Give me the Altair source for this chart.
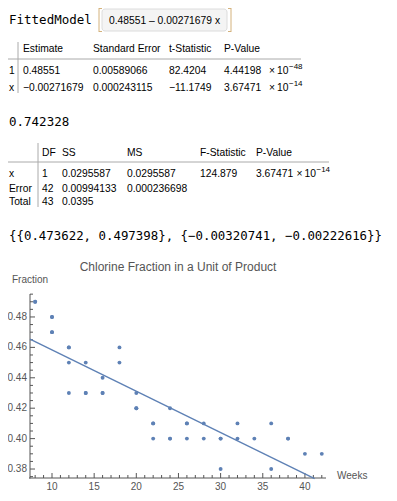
import altair as alt
import pandas as pd

# ---------------- data ----------------
weeks = [8, 8, 10, 10, 10, 10, 12, 12, 12, 12, 14, 14, 14, 16, 16, 16, 18, 18,
         20, 20, 20, 22, 22, 22, 24, 24, 24, 26, 26, 26, 28, 28, 30, 30, 30,
         32, 32, 34, 36, 36, 38, 38, 40, 42]
fraction = [0.49, 0.49, 0.48, 0.47, 0.48, 0.47, 0.46, 0.46, 0.45, 0.43, 0.45,
            0.43, 0.43, 0.44, 0.43, 0.43, 0.46, 0.45, 0.42, 0.42, 0.43, 0.41,
            0.41, 0.40, 0.42, 0.40, 0.40, 0.41, 0.40, 0.41, 0.41, 0.40, 0.40,
            0.40, 0.38, 0.41, 0.40, 0.40, 0.41, 0.38, 0.40, 0.40, 0.39, 0.39]

model_text = "0.48551 \u2013 0.00271679 x"

est_header = ["Estimate", "Standard Error", "t-Statistic", "P-Value"]
est_rows = ["1", "x"]
est_cells = [["0.48551", "0.00589066", "82.4204", "4.44198"],
             ["\u22120.00271679", "0.000243115", "\u221211.1749", "3.67471"]]
times_ten = "\u00d7\u200910"
est_exp = ["\u221248", "\u221214"]

rsq_text = "0.742328"

anova_header = ["DF", "SS", "MS", "F-Statistic", "P-Value"]
anova_rows = ["x", "Error", "Total"]
anova_cells = [["1", "0.0295587", "0.0295587", "124.879", "3.67471"],
               ["42", "0.00994133", "0.000236698"],
               ["43", "0.0395"]]
anova_exp = "\u221214"

ci_text = "{{0.473622, 0.497398}, {\u22120.00320741, \u22120.00222616}}"

plot_title = "Chlorine Fraction in a Unit of Product"
y_title = "Fraction"
x_title = "Weeks"
x_major = [10, 15, 20, 25, 30, 35, 40]
x_labels = ["10", "15", "20", "25", "30", "35", "40"]
x_minor = [v for v in range(8, 43) if v % 5 != 0]
y_major = [0.38, 0.40, 0.42, 0.44, 0.46, 0.48]
y_labels = ["0.38", "0.40", "0.42", "0.44", "0.46", "0.48"]
y_minor = [0.375, 0.385, 0.39, 0.395, 0.405, 0.41, 0.415, 0.425, 0.43, 0.435,
           0.445, 0.45, 0.455, 0.465, 0.47, 0.475, 0.485, 0.49, 0.495]

# ---------------- styling / layout ----------------
SANS = "Liberation Sans"
MONO = "DejaVu Sans Mono"
BLUE = "#5E81B5"
GRAY = "#555555"
TS = 10.3

XL, XR = 22, 318      # plot x range (px)
YB, YT = 470, 286     # plot y range (px)
xs = alt.Scale(domain=[7.39, 42.5], range=[XL, XR], nice=False, zero=False)
ys = alt.Scale(domain=[0.3741, 0.4951], range=[YB, YT], nice=False, zero=False)

one = pd.DataFrame({"a": [0]})


def T(s, x, y, size=TS, font=SANS, color="#000000", align="left"):
    return alt.Chart(pd.DataFrame({"t": [s]})).mark_text(
        font=font, fontSize=size, color=color, align=align, baseline="middle"
    ).encode(text="t:N", x=alt.value(x), y=alt.value(y))


def VR(x, y1, y2, color="#999999", w=1):
    return alt.Chart(one).mark_rule(color=color, strokeWidth=w).encode(
        x=alt.value(x), y=alt.value(y1), y2=alt.value(y2))


def HR(y, x1, x2, color="#999999", w=1):
    return alt.Chart(one).mark_rule(color=color, strokeWidth=w).encode(
        y=alt.value(y), x=alt.value(x1), x2=alt.value(x2))


layers = []

# FittedModel line
layers.append(T("FittedModel", 1, 12, size=12.5, font=MONO))
layers.append(alt.Chart(one).mark_rect(fill="#f4f4f4", stroke="#dcdcdc", cornerRadius=3).encode(
    x=alt.value(94), x2=alt.value(219), y=alt.value(1), y2=alt.value(23)))
layers.append(T(model_text, 156.5, 12.5, size=10.3, align="center"))
BR = "#d4b27c"
layers += [VR(91, 0, 24, BR), HR(0.5, 91, 94, BR), HR(23.5, 91, 94, BR),
           VR(223, 0, 24, BR), HR(0.5, 220, 223, BR), HR(23.5, 220, 223, BR)]

# Parameter table
est_cols = [15, 85, 161, 216]
est_y = [63, 79.5]
for s, cx in zip(est_header, est_cols):
    layers.append(T(s, cx, 41))
for r, (lab, cells) in enumerate(zip(est_rows, est_cells)):
    layers.append(T(lab, 1, est_y[r]))
    for s, cx in zip(cells, est_cols):
        layers.append(T(s, cx, est_y[r]))
    layers.append(T(times_ten, 280.5, est_y[r], align="right"))
    layers.append(T(est_exp[r], 281, est_y[r] - 4, size=8))
layers += [VR(10, 34, 85, "#aaaaaa"), HR(51, 0, 293, "#aaaaaa")]

# R squared
layers.append(T(rsq_text, 1, 114, size=12.5, font=MONO))

# ANOVA table
an_cols = [34, 54, 119, 192, 248]
an_y = [166, 180.5, 194]
for s, cx in zip(anova_header, an_cols):
    layers.append(T(s, cx, 145))
for r, (lab, cells) in enumerate(zip(anova_rows, anova_cells)):
    layers.append(T(lab, 1, an_y[r]))
    for s, cx in zip(cells, an_cols):
        layers.append(T(s, cx, an_y[r]))
layers.append(T(times_ten, 308, an_y[0], align="right"))
layers.append(T(anova_exp, 308.5, an_y[0] - 4, size=8))
layers += [VR(30, 135, 199, "#aaaaaa"), HR(154, 0, 321, "#aaaaaa")]

# Confidence intervals
layers.append(T(ci_text, 1, 228, size=12.4, font=MONO))

# ---------------- plot ----------------
layers.append(T(plot_title, 170, 259, size=12, color=GRAY, align="center"))
layers.append(T(y_title, 4, 272, size=10, color=GRAY))
layers.append(T(x_title, 329, 468, size=10, color=GRAY))

# axis lines
layers += [VR(XL, YT, YB + 0.5, GRAY), HR(YB, XL - 1, XR, GRAY)]

xmaj = pd.DataFrame({"v": x_major, "lab": x_labels})
xmin = pd.DataFrame({"v": x_minor})
ymaj = pd.DataFrame({"v": y_major, "lab": y_labels})
ymin = pd.DataFrame({"v": y_minor})

layers.append(alt.Chart(xmaj).mark_rule(color=GRAY).encode(
    x=alt.X("v:Q", scale=xs, axis=None), y=alt.value(YB), y2=alt.value(YB - 5)))
layers.append(alt.Chart(xmin).mark_rule(color=GRAY).encode(
    x=alt.X("v:Q", scale=xs, axis=None), y=alt.value(YB), y2=alt.value(YB - 3)))
layers.append(alt.Chart(xmaj).mark_text(font=SANS, fontSize=10, color=GRAY, baseline="middle").encode(
    x=alt.X("v:Q", scale=xs, axis=None), y=alt.value(479), text="lab:N"))

layers.append(alt.Chart(ymaj).mark_rule(color=GRAY).encode(
    y=alt.Y("v:Q", scale=ys, axis=None), x=alt.value(XL), x2=alt.value(XL + 5)))
layers.append(alt.Chart(ymin).mark_rule(color=GRAY).encode(
    y=alt.Y("v:Q", scale=ys, axis=None), x=alt.value(XL), x2=alt.value(XL + 3)))
layers.append(alt.Chart(ymaj).mark_text(font=SANS, fontSize=10, color=GRAY, align="right",
                                        baseline="middle").encode(
    y=alt.Y("v:Q", scale=ys, axis=None), x=alt.value(19), text="lab:N"))

pts = pd.DataFrame({"week": weeks, "fraction": fraction})
layers.append(alt.Chart(pts).mark_line(color=BLUE, strokeWidth=1.4).transform_regression(
    "week", "fraction", extent=[7.39, 41.15]).encode(
    x=alt.X("week:Q", scale=xs, axis=None), y=alt.Y("fraction:Q", scale=ys, axis=None)))
layers.append(alt.Chart(pts).mark_circle(color=BLUE, size=15, opacity=1).encode(
    x=alt.X("week:Q", scale=xs, axis=None), y=alt.Y("fraction:Q", scale=ys, axis=None)))

chart = alt.layer(*layers).properties(
    width=381, height=485, padding=0,
    autosize=alt.AutoSizeParams(type="none"),
).configure_view(stroke=None)

chart.save("out.html", embed_options={"renderer": "svg", "actions": False})
